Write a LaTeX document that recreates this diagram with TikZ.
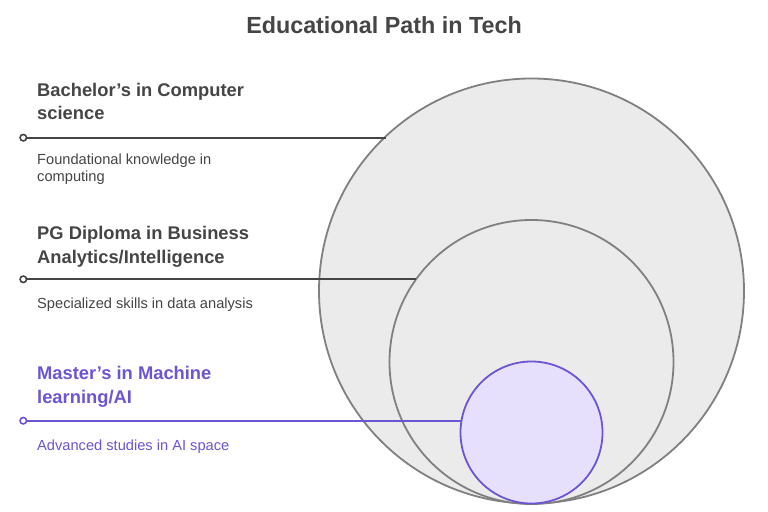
\documentclass[tikz,border=0pt]{standalone}
\usepackage{fontspec}
\setmainfont{Liberation Sans}
\usetikzlibrary{positioning}

\definecolor{inkgrey}{HTML}{454545}
\definecolor{rimgrey}{HTML}{808080}
\definecolor{fillgrey}{HTML}{EBEBEB}
\definecolor{aipurple}{HTML}{6C55D2}
\definecolor{aifill}{HTML}{E6E0FD}

\begin{document}
\begin{tikzpicture}[x=1bp,y=-1bp,
    ring/.style={circle,draw=rimgrey,fill=fillgrey,line width=1.8bp,inner sep=0pt},
    head/.style={anchor=north west,align=left,inner sep=0pt,
      font=\fontsize{18.4}{23.3}\selectfont\bfseries},
    desc/.style={anchor=north west,align=left,inner sep=0pt,
      font=\fontsize{14.7}{16.8}\selectfont},
    pin/.style={circle,draw,fill=white,line width=1.6bp,minimum size=6.5bp,inner sep=0pt},
    leader/.style={line width=1.9bp}]
    \useasboundingbox[fill=white] (0,0) rectangle (768,512);

    \node[font=\fontsize{23.4}{28}\selectfont\bfseries,text=inkgrey,anchor=base]
      (title) at (384,34) {Educational Path in Tech};

    % nested circles
    \node[ring,minimum size=425bp] (bsc) at (531.5,291) {};
    \node[ring,minimum size=284bp] (pgd) at (531.5,362) {};
    \node[ring,draw=aipurple,fill=aifill,minimum size=142bp] (msc) at (531.5,432.5) {};

    % leaders
    \node[pin,draw=inkgrey] (p1) at (23.3,137.7) {};
    \node[pin,draw=inkgrey] (p2) at (23.3,279.3) {};
    \node[pin,draw=aipurple] (p3) at (23.3,420.7) {};
    \draw[leader,inkgrey] (p1) -- (p1 -| bsc.133.8);
    \draw[leader,inkgrey] (p2) -- (p2 -| pgd.144.4);
    \draw[leader,aipurple] (p3) -- (p3 -| msc.170.4);

    % labels
    \node[head,text=inkgrey] (h1) at (37,83) {Bachelor’s in Computer\\science};
    \node[desc,text=inkgrey] (d1) at (37,154) {Foundational knowledge in\\computing};
    \node[head,text=inkgrey] (h2) at (37,226.5) {PG Diploma in Business\\Analytics/Intelligence};
    \node[desc,text=inkgrey] (d2) at (37,297.3) {Specialized skills in data analysis};
    \node[head,text=aipurple] (h3) at (37,366.5) {Master’s in Machine\\learning/AI};
    \node[desc,text=aipurple] (d3) at (37,439.3) {Advanced studies in AI space};
  \end{tikzpicture}
\end{document}
